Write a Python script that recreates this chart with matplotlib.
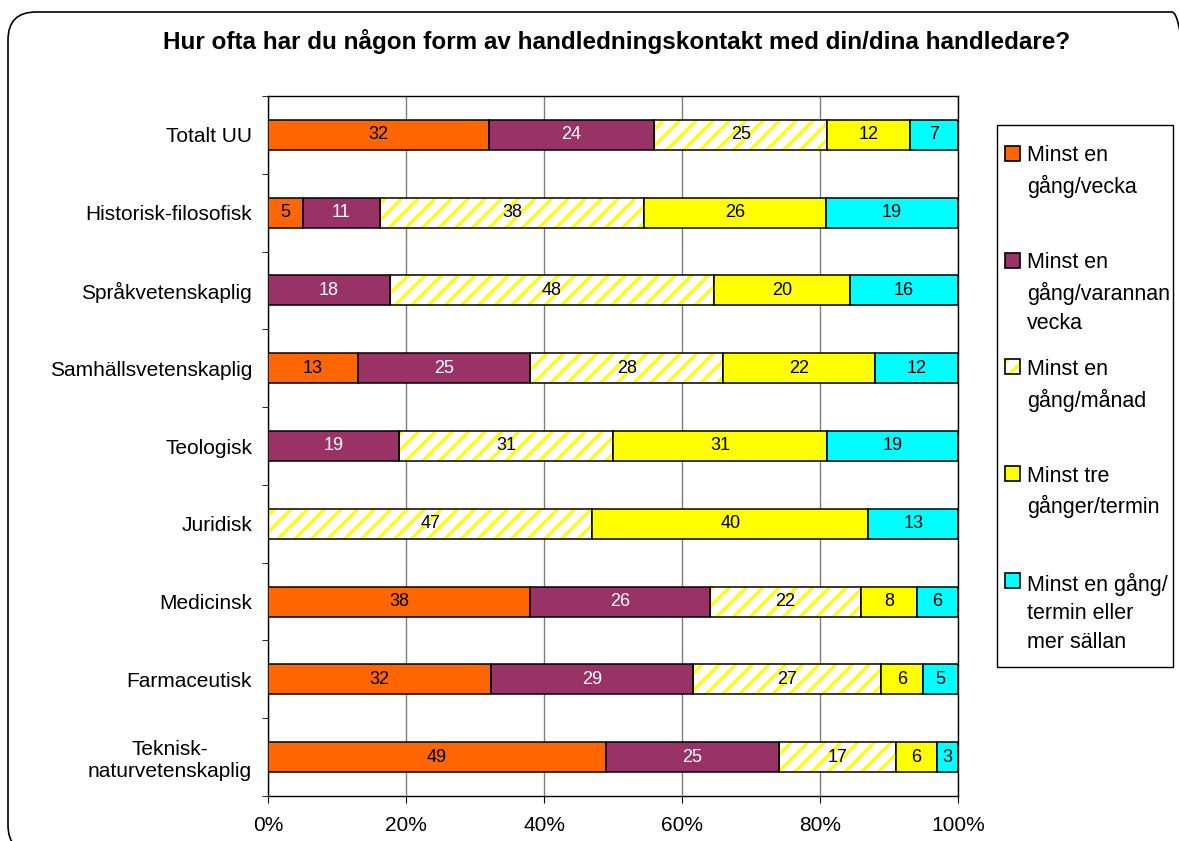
import matplotlib
matplotlib.use("Agg")
import matplotlib.pyplot as plt
import numpy as np
from matplotlib.patches import Rectangle, FancyBboxPatch
from matplotlib.transforms import IdentityTransform

plt.rcParams['font.family'] = ['Liberation Sans', 'DejaVu Sans']
plt.rcParams['hatch.linewidth'] = 2.2

title = "Hur ofta har du någon form av handledningskontakt med din/dina handledare?"
categories = ["Totalt UU", "Historisk-filosofisk", "Språkvetenskaplig",
              "Samhällsvetenskaplig", "Teologisk", "Juridisk", "Medicinsk",
              "Farmaceutisk", "Teknisk-\nnaturvetenskaplig"]
series_names = ["Minst en\ngång/vecka", "Minst en\ngång/varannan\nvecka",
                "Minst en\ngång/månad", "Minst tre\ngånger/termin",
                "Minst en gång/\ntermin eller\nmer sällan"]
weekly = [32, 5, 0, 13, 0, 0, 38, 32, 49]
biweekly = [24, 11, 18, 25, 19, 0, 26, 29, 25]
monthly = [25, 38, 48, 28, 31, 47, 22, 27, 17]
three_per_term = [12, 26, 20, 22, 31, 40, 8, 6, 6]
term_or_less = [7, 19, 16, 12, 19, 13, 6, 5, 3]
xticklabels = ["0%", "20%", "40%", "60%", "80%", "100%"]

series = [weekly, biweekly, monthly, three_per_term, term_or_less]
colors = ["#FF6600", "#993366", "white", "#FFFF00", "#00FFFF"]
hatched = [False, False, True, False, False]
text_colors = ["black", "white", "black", "black", "black"]

W, H = 1179, 841
fig = plt.figure(figsize=(W / 100, H / 100), dpi=100)

def fx(x):
    return x / W

def fy(y):
    return 1 - y / H

ax = fig.add_axes([fx(268), fy(796), fx(958) - fx(268), fy(96) - fy(796)])

data = np.array(series, dtype=float)
totals = data.sum(axis=0)
frac = data / totals
ypos = np.arange(len(categories))
bar_h = 0.387
left = np.zeros(len(categories))
for i in range(len(series)):
    w = frac[i]
    if hatched[i]:
        ax.barh(ypos, w, left=left, height=bar_h, color="white",
                edgecolor="#FFFF00", hatch="//", linewidth=0, zorder=2)
        ax.barh(ypos, w, left=left, height=bar_h, fill=False,
                edgecolor="black", linewidth=1.1, zorder=3)
    else:
        ax.barh(ypos, w, left=left, height=bar_h, color=colors[i],
                edgecolor="black", linewidth=1.1, zorder=3)
    for j in range(len(categories)):
        v = data[i, j]
        if v > 0:
            ax.text(left[j] + w[j] / 2, ypos[j], f"{int(v)}", ha="center",
                    va="center", fontsize=13, color=text_colors[i], zorder=4)
    left = left + w

ax.set_xlim(0, 1)
ax.set_ylim(len(categories) - 0.5, -0.5)
ax.set_xticks(np.linspace(0, 1, 6))
ax.set_xticklabels(xticklabels, fontsize=15)
ax.tick_params(axis="x", length=5, pad=9.5, color="black")
ax.set_yticks(ypos)
ax.set_yticklabels(categories, fontsize=15, multialignment="center")
ax.tick_params(axis="y", which="major", length=0, pad=11.5)
ax.set_yticks(np.arange(-0.5, len(categories), 1.0), minor=True)
ax.tick_params(axis="y", which="minor", length=4.5, color="black")
ax.grid(axis="x", color="#7f7f7f", linewidth=1)
ax.set_axisbelow(True)
for s in ax.spines.values():
    s.set_color("black")
    s.set_linewidth(1)

fig.text(fx(617), fy(42), title, ha="center", va="center", fontsize=17.5,
         fontweight="bold")

# legend
fig.add_artist(Rectangle((fx(997), fy(667)), fx(1173) - fx(997), fy(125) - fy(667),
                         transform=fig.transFigure, fill=False,
                         edgecolor="black", linewidth=1))
sq = 15
for i, name in enumerate(series_names):
    yc = 153.2 + i * 106.8
    rect_xy = (fx(1005), fy(yc + sq / 2))
    if hatched[i]:
        fig.add_artist(Rectangle(rect_xy, fx(sq), sq / H,
                                 transform=fig.transFigure, facecolor="white",
                                 edgecolor="#FFFF00", hatch="//", linewidth=0))
        fig.add_artist(Rectangle(rect_xy, fx(sq), sq / H,
                                 transform=fig.transFigure, fill=False,
                                 edgecolor="black", linewidth=1.2))
    else:
        fig.add_artist(Rectangle(rect_xy, fx(sq), sq / H,
                                 transform=fig.transFigure, facecolor=colors[i],
                                 edgecolor="black", linewidth=1.2))
    fig.text(fx(1027), fy(yc - 8), name, ha="left", va="top",
             fontsize=15.5, linespacing=1.48)

# rounded chart border
border = FancyBboxPatch((8, -12), 1192, H - 12 + 12,
                        boxstyle="round,pad=0,rounding_size=28",
                        transform=IdentityTransform(), fill=False,
                        edgecolor="black", linewidth=1.2)
fig.add_artist(border)

fig.savefig("out.png", dpi=100)
